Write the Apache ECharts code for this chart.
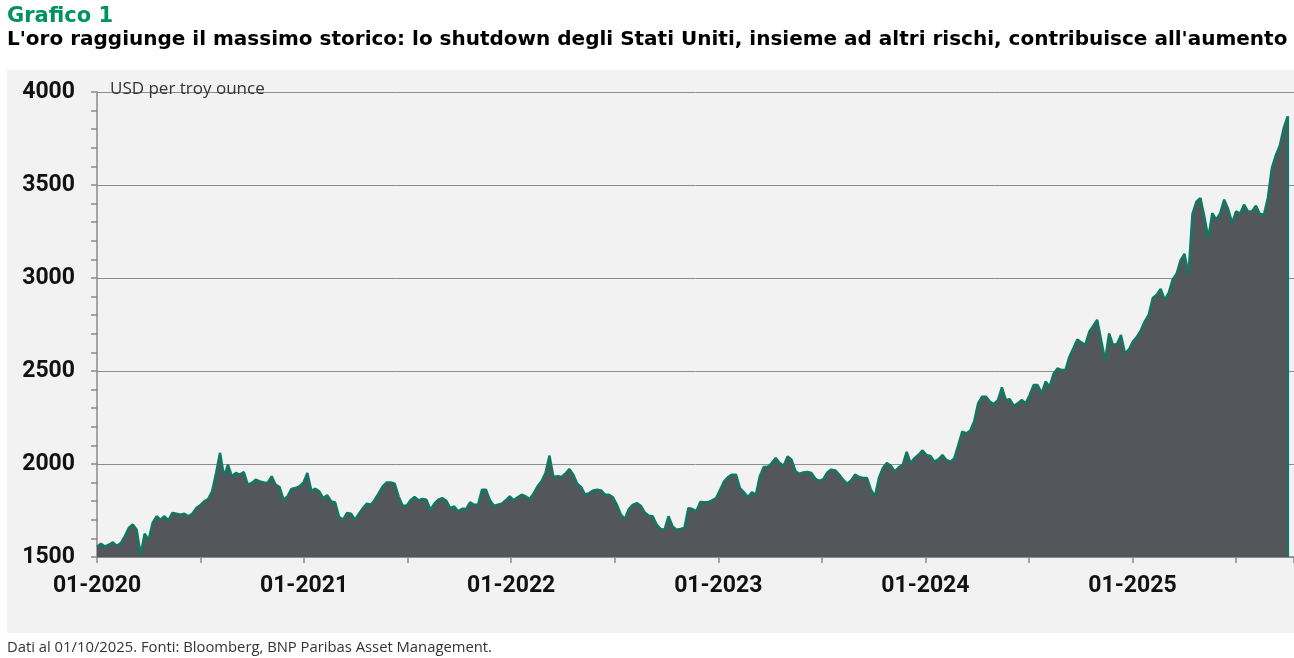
<!DOCTYPE html>
<html>
<head>
<meta charset="utf-8">
<title>Grafico 1</title>
<script src="https://cdn.jsdelivr.net/npm/echarts@6.0.0/dist/echarts.min.js"></script>
<style>
  html, body { margin: 0; padding: 0; background: #fff; }
  #chart { width: 1294px; height: 658px; }
</style>
</head>
<body>
<div id="chart"></div>
<script>
// prezzo dell'oro, chiusure settimanali (USD per oncia troy)
var startYear = 2020;
var prices2020 = [1555, 1572, 1557, 1566, 1579, 1560, 1575, 1611, 1656, 1675,
  1647, 1513, 1625, 1593, 1683, 1719, 1701, 1719, 1697, 1737,
  1733, 1728, 1733, 1719, 1733, 1763, 1778, 1799, 1812, 1853,
  1952, 2060, 1934, 1996, 1934, 1952, 1943, 1957, 1889, 1898,
  1916, 1907, 1901, 1898, 1934, 1889, 1876, 1808, 1826, 1866,
  1871, 1880];
var prices2021 = [1900, 1952, 1857, 1867, 1853, 1817, 1832, 1799, 1794, 1715,
  1701, 1737, 1733, 1701, 1733, 1763, 1787, 1781, 1808, 1844,
  1880, 1901, 1901, 1894, 1826, 1776, 1776, 1805, 1823, 1805,
  1812, 1808, 1754, 1787, 1808, 1817, 1803, 1763, 1772, 1746,
  1760, 1758, 1794, 1781, 1781, 1862, 1862, 1805, 1776, 1781,
  1787, 1805];
var prices2022 = [1826, 1805, 1821, 1835, 1826, 1812, 1841, 1880, 1907, 1952,
  2045, 1930, 1934, 1930, 1948, 1973, 1943, 1894, 1876, 1835,
  1844, 1858, 1862, 1858, 1835, 1835, 1821, 1781, 1728, 1704,
  1758, 1781, 1790, 1776, 1740, 1722, 1719, 1674, 1651, 1647,
  1719, 1665, 1647, 1651, 1656, 1763, 1758, 1746, 1796, 1794,
  1794, 1805];
var prices2023 = [1817, 1862, 1907, 1930, 1943, 1943, 1871, 1848, 1823, 1848,
  1835, 1934, 1984, 1984, 2005, 2032, 2005, 1991, 2040, 2023,
  1961, 1948, 1955, 1957, 1952, 1921, 1910, 1919, 1955, 1970,
  1966, 1943, 1916, 1894, 1912, 1943, 1930, 1925, 1925, 1862,
  1826, 1925, 1979, 2005, 1991, 1961, 1982, 1996, 2065, 2005,
  2032, 2050];
var prices2024 = [2073, 2048, 2043, 2013, 2025, 2048, 2022, 2013, 2030, 2102,
  2174, 2165, 2179, 2228, 2326, 2362, 2362, 2335, 2323, 2344,
  2412, 2344, 2348, 2312, 2326, 2344, 2326, 2371, 2425, 2425,
  2380, 2443, 2416, 2484, 2514, 2505, 2505, 2577, 2622, 2670,
  2654, 2640, 2711, 2742, 2775, 2667, 2559, 2702, 2640, 2645,
  2693, 2595];
var prices2025 = [2616, 2658, 2683, 2719, 2767, 2803, 2893, 2910, 2941, 2884,
  2919, 2991, 3023, 3095, 3130, 3020, 3345, 3410, 3430, 3331,
  3215, 3349, 3314, 3349, 3421, 3371, 3296, 3358, 3346, 3394,
  3358, 3358, 3389, 3344, 3340, 3430, 3591, 3659, 3711, 3806,
  3869];

var yTicks = [1500, 4000, 500]; // min, max, passo
var titolo = 'Grafico 1';
var sottotitolo = "L'oro raggiunge il massimo storico: lo shutdown degli Stati Uniti, insieme ad altri rischi, contribuisce all'aumento";
var unita = 'USD per troy ounce';
var nota = 'Dati al 01/10/2025. Fonti: Bloomberg, BNP Paribas Asset Management.';

var verde = '#0e7a63';
var grigioArea = '#53565a';
var fontAssi = 'Roboto, "Noto Sans", sans-serif';
var fontTitoli = '"DejaVu Sans", "Noto Sans", sans-serif';
var fontNote = '"Open Sans", "Noto Sans", sans-serif';

// serie settimanale: x in anni frazionari a partire da gennaio 2020
var prices = [].concat(prices2020, prices2021, prices2022, prices2023, prices2024, prices2025);
var data = prices.map(function(v, i) {
  return [startYear + i * 7 / 365.25, v];
});
var last = data[data.length - 1];

var chart = echarts.init(document.getElementById('chart'), null, { renderer: 'canvas' });

var option = {
  animation: false,
  backgroundColor: '#ffffff',
  graphic: [{
    type: 'rect',
    silent: true,
    z: -10,
    shape: { x: 7, y: 70, width: 1287, height: 563 },
    style: { fill: '#f2f2f2' }
  }],
  title: [
    { text: titolo, left: 7, top: 6, padding: 0,
      textStyle: { color: '#00925f', fontSize: 21, fontWeight: 'bold', fontFamily: fontTitoli } },
    { text: sottotitolo, left: 7, top: 30, padding: 0,
      textStyle: { color: '#000', fontSize: 20, fontWeight: 'bold', fontFamily: fontTitoli } },
    { text: unita, left: 110, top: 81, padding: 0,
      textStyle: { color: '#333', fontSize: 17, fontWeight: 'normal', fontFamily: fontNote } },
    { text: nota, left: 7, top: 640, padding: 0,
      textStyle: { color: '#333', fontSize: 14.8, fontWeight: 'normal', fontFamily: fontNote } }
  ],
  grid: { left: 97, right: 0, top: 92, bottom: 101, containLabel: false },
  xAxis: {
    type: 'value',
    min: 2020,
    max: 2025.78,
    interval: 1,
    splitLine: { show: false },
    axisLine: { show: true, lineStyle: { color: '#8a8a8a', width: 1.5 } },
    axisTick: { show: true, length: 6, lineStyle: { color: '#8a8a8a', width: 1.5 } },
    minorTick: { show: true, splitNumber: 2, length: 6, lineStyle: { color: '#8a8a8a', width: 1.5 } },
    axisLabel: {
      margin: 18,
      color: '#111',
      fontSize: 23,
      fontWeight: 'bold',
      fontFamily: fontAssi,
      showMaxLabel: false,
      formatter: function(v) {
        return Math.abs(v - Math.round(v)) < 1e-6 ? '01-' + Math.round(v) : '';
      }
    }
  },
  yAxis: {
    type: 'value',
    min: yTicks[0],
    max: yTicks[1],
    interval: yTicks[2],
    splitLine: { show: true, lineStyle: { color: '#8c8c8c', width: 1 } },
    axisLine: { show: true, lineStyle: { color: '#8a8a8a', width: 1.5 } },
    axisTick: { show: true, length: 6, lineStyle: { color: '#8a8a8a', width: 1.5 } },
    minorTick: { show: true, splitNumber: 5, length: 6, lineStyle: { color: '#8a8a8a', width: 1.5 } },
    axisLabel: {
      margin: 22,
      color: '#111',
      fontSize: 23,
      fontWeight: 'bold',
      fontFamily: fontAssi,
      formatter: function(v) { return String(v); }
    }
  },
  series: [{
    type: 'line',
    data: data,
    showSymbol: false,
    symbol: 'none',
    lineStyle: { color: verde, width: 2.4 },
    areaStyle: { color: grigioArea, opacity: 1 },
    markLine: {
      silent: true,
      symbol: 'none',
      label: { show: false },
      lineStyle: { color: verde, width: 2.2, type: 'solid' },
      data: [[{ coord: [last[0], yTicks[0]] }, { coord: [last[0], last[1]] }]]
    }
  }]
};

chart.setOption(option);
</script>
</body>
</html>
